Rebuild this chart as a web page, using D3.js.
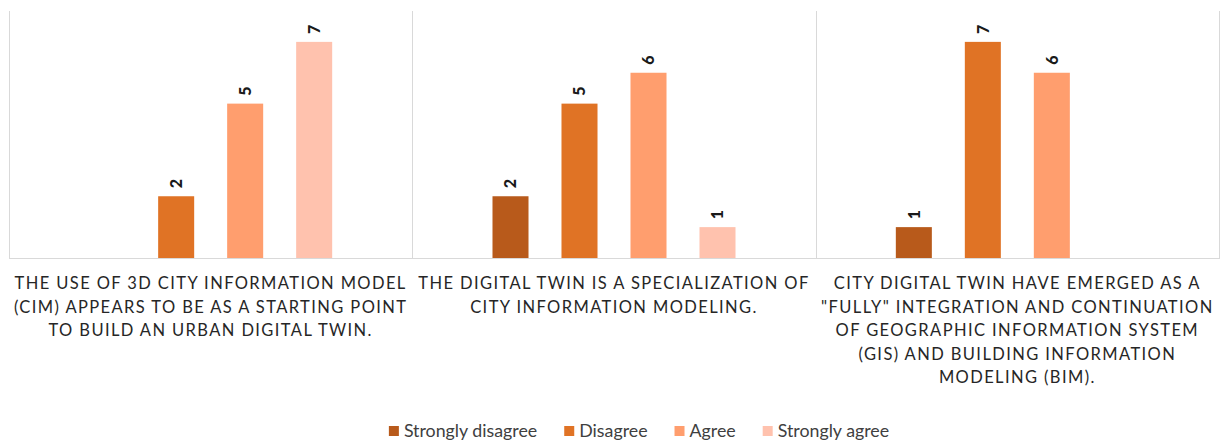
<!DOCTYPE html>
<html>
<head>
<meta charset="utf-8">
<script src="https://cdn.jsdelivr.net/npm/d3@7"></script>
<style>
  body { margin: 0; background: #fff; }
  svg { display: block; }
</style>
</head>
<body>
<div id="chart"></div>
<script>
// data
const categories = [
  ["THE USE OF 3D CITY INFORMATION MODEL", "(CIM) APPEARS TO BE AS A STARTING POINT", "TO BUILD AN URBAN DIGITAL TWIN."],
  ["THE DIGITAL TWIN IS A SPECIALIZATION OF", "CITY INFORMATION MODELING."],
  ["CITY DIGITAL TWIN HAVE EMERGED AS A", "\"FULLY\" INTEGRATION AND CONTINUATION", "OF GEOGRAPHIC INFORMATION SYSTEM", "(GIS) AND BUILDING INFORMATION", "MODELING (BIM)."]
];
const seriesNames = ["Strongly disagree", "Disagree", "Agree", "Strongly agree"];
const stronglyDisagree = [0, 2, 1];
const disagree = [2, 5, 7];
const agree = [5, 6, 6];
const stronglyAgree = [7, 1, 0];
const colors = ["#b85a1b", "#e07325", "#ff9e6e", "#ffc2ae"];

const seriesValues = [stronglyDisagree, disagree, agree, stronglyAgree];

const width = 1222, height = 446;
const plot = { left: 9, right: 1219, top: 11, bottom: 258 };

const svg = d3.select("#chart").append("svg")
    .attr("width", width)
    .attr("height", height);

const x0 = d3.scaleBand()
    .domain(d3.range(categories.length))
    .range([plot.left, plot.right]);

const x1 = d3.scaleBand()
    .domain(seriesNames)
    .range([(x0.bandwidth() - 276) / 2, (x0.bandwidth() + 276) / 2])
    .paddingInner(0.478)
    .paddingOuter(0.239);

const y = d3.scaleLinear()
    .domain([0, 8])
    .range([plot.bottom, plot.top]);

// frame lines
const grid = svg.append("g").attr("stroke", "#d9d9d9").attr("stroke-width", 1);
d3.range(categories.length + 1).forEach(i => {
  const xx = Math.round(i < categories.length ? x0(i) : plot.right) + 0.5;
  grid.append("line")
      .attr("x1", xx).attr("x2", xx)
      .attr("y1", plot.top).attr("y2", plot.bottom);
});
grid.append("line")
    .attr("x1", plot.left).attr("x2", plot.right + 1)
    .attr("y1", plot.bottom + 0.5).attr("y2", plot.bottom + 0.5);

// bars
const rows = [];
categories.forEach((c, i) => {
  seriesNames.forEach((s, j) => {
    rows.push({ cat: i, series: s, idx: j, value: seriesValues[j][i] });
  });
});
const shown = rows.filter(d => d.value > 0);

svg.append("g").selectAll("rect")
  .data(shown)
  .join("rect")
    .attr("x", d => x0(d.cat) + x1(d.series))
    .attr("y", d => y(d.value))
    .attr("width", x1.bandwidth())
    .attr("height", d => y(0) - y(d.value))
    .attr("fill", d => colors[d.idx]);

// value labels
svg.append("g").selectAll("text")
  .data(shown)
  .join("text")
    .attr("transform", d => `translate(${x0(d.cat) + x1(d.series) + x1.bandwidth() / 2},${y(d.value) - 8}) rotate(-90)`)
    .attr("dy", "0.36em")
    .attr("text-anchor", "start")
    .attr("font-family", "Lato, 'Open Sans', sans-serif")
    .attr("font-weight", "900")
    .attr("font-size", 16)
    .attr("fill", "#1a1a1a")
    .text(d => d.value);

// category labels
const catG = svg.append("g")
    .attr("font-family", "Lato, 'Open Sans', sans-serif")
    .attr("font-size", 16.5)
    .attr("letter-spacing", "1.4px")
    .attr("fill", "#262626")
    .attr("text-anchor", "middle");

categories.forEach((lines, i) => {
  const cx = x0(i) + x0.bandwidth() / 2;
  const t = catG.append("text");
  lines.forEach((ln, k) => {
    t.append("tspan")
        .attr("x", cx)
        .attr("y", 289 + k * 23.5)
        .text(ln);
  });
});

// legend
const legend = svg.append("g")
    .attr("font-family", "Lato, 'Open Sans', sans-serif")
    .attr("font-size", 17.8)
    .attr("fill", "#404040");

let lx = 0;
seriesNames.forEach((s, j) => {
  const g = legend.append("g");
  g.append("rect")
      .attr("x", 0).attr("y", -5)
      .attr("width", 10).attr("height", 10)
      .attr("fill", colors[j]);
  const t = g.append("text")
      .attr("x", 15)
      .attr("dy", "0.35em")
      .text(s);
  const w = 15 + t.node().getComputedTextLength();
  g.attr("transform", `translate(${lx},0)`);
  lx += w + 27;
});
const legendW = lx - 27;
legend.attr("transform", `translate(${639 - legendW / 2},431)`);
</script>
</body>
</html>
